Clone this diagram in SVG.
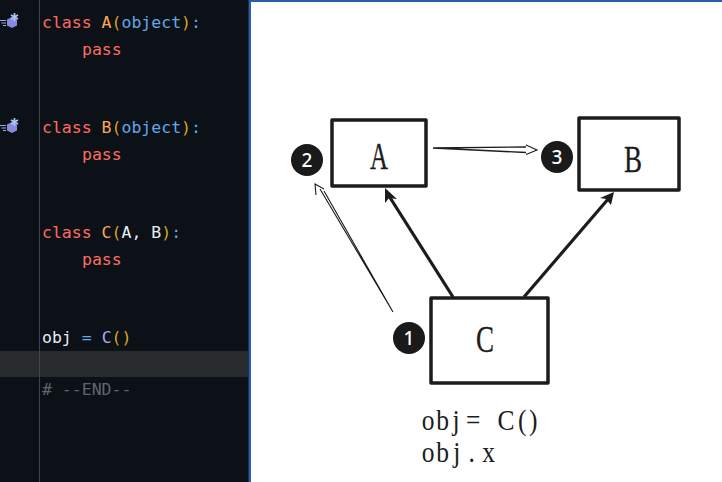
<svg xmlns="http://www.w3.org/2000/svg" width="722" height="482" viewBox="0 0 722 482">
<defs>
<g id="icon">
<path d="M7 19.500L12 17 17 19.500 17 25.500 12 28 7 25.500z" fill="#8888dd"/>
<path d="M14.500 13v8M11 15l7 4M18 15l-7 4" stroke="#a9c8f5" stroke-width="1.700"/>
<path d="M0 20.500h6M1.500 23h4.500M3 25.500h3" stroke="#9aaae0" stroke-width="1.100"/>
</g>
</defs>
<style>
.code{font-family:"DejaVu Sans Mono",monospace;font-size:16.5px;fill:#ff6b61}
.y{fill:#ffa657}.p{fill:#d9a520}.b{fill:#62a8e8}.w{fill:#e6edf3}.c{fill:#5f666d}.v{fill:#b9a2f5}
.box{fill:#fff;stroke:#1c1c1c;stroke-width:3.500;stroke-linejoin:round}
.ser{font-family:"Liberation Serif","Noto Sans CJK SC",serif;fill:#1c1c1c}
.lab{font-size:37px;text-anchor:middle;stroke:#1c1c1c;stroke-width:.3}
.bad{fill:#1a1a1a}
.num{font-family:"Noto Sans","DejaVu Sans",sans-serif;font-size:19px;fill:#fff;text-anchor:middle;font-weight:500}
.thick{stroke:#1c1c1c;stroke-width:3.200;fill:none}
.thin{stroke:#1c1c1c;stroke-width:1.100;fill:none}
</style>
<rect width="722" height="482" fill="#fff"/>
<rect width="250" height="482" fill="#0c1017"/>
<rect x="0" y="351" width="250" height="26" fill="#272b2e"/>
<rect x="39" y="0" width="1" height="482" fill="#3f444a"/>
<rect x="248" y="0" width="1" height="482" fill="#16335a"/>
<rect x="249" y="0" width="2" height="482" fill="#2a5fa8"/>
<rect x="250" y="0" width="472" height="2" fill="#2a5fa8"/>
<g id="gutter">
<use href="#icon"/>
<use href="#icon" y="105"/>
</g>
<g id="code">
<text class="code" x="42" y="28">class <tspan class="y">A</tspan><tspan class="p">(</tspan><tspan class="b">object</tspan><tspan class="p">)</tspan><tspan class="b">:</tspan></text>
<text class="code" x="82" y="55">pass</text>
<text class="code" x="42" y="133">class <tspan class="y">B</tspan><tspan class="p">(</tspan><tspan class="b">object</tspan><tspan class="p">)</tspan><tspan class="b">:</tspan></text>
<text class="code" x="82" y="160">pass</text>
<text class="code" x="42" y="238">class <tspan class="y">C</tspan><tspan class="p">(</tspan><tspan class="w">A, B</tspan><tspan class="p">)</tspan><tspan class="b">:</tspan></text>
<text class="code" x="82" y="265">pass</text>
<text class="code" x="42" y="343"><tspan class="w">obj</tspan> <tspan class="b">=</tspan> <tspan class="v">C</tspan><tspan class="p">()</tspan></text>
<text class="code c" x="42" y="395"># --END--</text>
</g>
<g id="connectors">
<path class="thick" d="M453 297L389 196"/>
<path fill="#1c1c1c" d="M385 188L397 199 389 198 385 203z"/>
<path class="thick" d="M524 297L609 198"/>
<path fill="#1c1c1c" d="M614 192L611 205 606 199 600 198z"/>
<path class="thin" d="M393 312L320 189M393 312L324 191"/>
<path class="thin" d="M316 195L315 184 324 189"/>
<path stroke="#1c1c1c" stroke-width="1.300" fill="none" d="M433 148L526 147M433 148L526 152.500"/>
<path class="thin" d="M526 145L537 150 526 154.500"/>
</g>
<g id="node-a"><rect class="box" x="332" y="120" width="94" height="66"/><text class="ser lab" x="379" y="169" textLength="18" lengthAdjust="spacingAndGlyphs">A</text></g>
<g id="node-b"><rect class="box" x="579" y="118" width="100" height="72"/><text class="ser lab" x="633" y="172" textLength="18" lengthAdjust="spacingAndGlyphs">B</text></g>
<g id="node-c"><rect class="box" x="431" y="298" width="117" height="85"/><text class="ser lab" x="485" y="352" textLength="18" lengthAdjust="spacingAndGlyphs">C</text></g>
<g id="badge-1"><circle class="bad" cx="409" cy="338" r="16"/><text class="num" x="409" y="345">1</text></g>
<g id="badge-2"><circle class="bad" cx="307" cy="160" r="16"/><text class="num" x="307" y="167">2</text></g>
<g id="badge-3"><circle class="bad" cx="557" cy="157" r="16"/><text class="num" x="557" y="164">3</text></g>
<g id="caption">
<text class="ser" transform="translate(421 430) scale(.85 1)" font-size="30" x="1 18 37 53 70 90 114 127">obj= C()</text>
<text class="ser" transform="translate(421 462) scale(.85 1)" font-size="30" x="1 18 38 56 72">obj.x</text>
</g>
</svg>
